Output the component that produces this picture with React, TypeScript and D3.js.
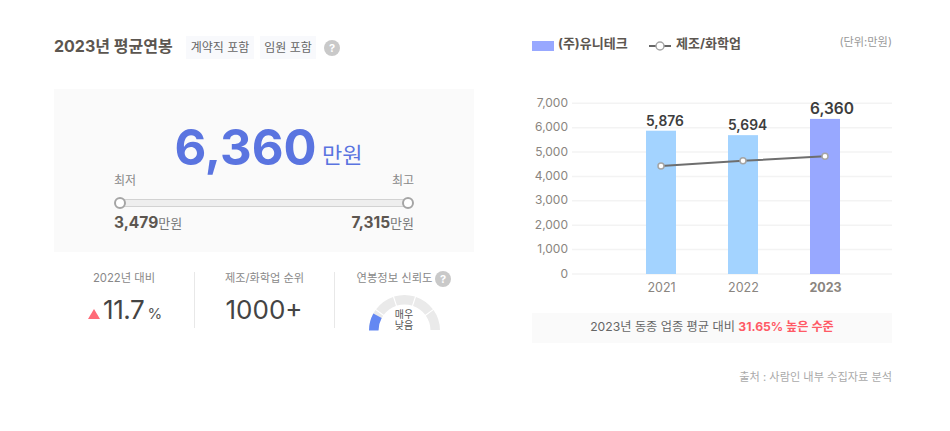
import React from "react";
import * as d3 from "d3";

const years = ["2021", "2022", "2023"];
const companyValues = [5876, 5694, 6360];
const industryValues = [4430, 4640, 4831];
const yTicks = [0, 1000, 2000, 3000, 4000, 5000, 6000, 7000];
const gaugeSegments = [1, 1, 1, 1, 1];
const FONT = "Inter, 'Noto Sans CJK KR', sans-serif";
const fmt = d3.format(",");

export default function App() {
  const y = d3.scaleLinear().domain([0, 7000]).range([274, 103.3]);
  const x = d3.scalePoint<string>().domain(years).range([661, 825]);
  const line = d3.line<number>().x((_, i) => x(years[i])!).y((d) => y(d));
  const barW = 30;

  const pie = d3.pie<number>().sort(null).startAngle(-Math.PI / 2).endAngle(Math.PI / 2).padAngle(0.025)(gaugeSegments);
  const arc = d3.arc<d3.PieArcDatum<number>>().innerRadius(26).outerRadius(35.5);
  const blueArc = d3.arc()({ innerRadius: 26, outerRadius: 35.5, startAngle: -Math.PI / 2, endAngle: -Math.PI / 2 + 0.5 } as any);

  const T = (p: any) => <text fontFamily={FONT} {...p} />;
  return (
    <svg width={950} height={431} style={{ position: "absolute", left: 0, top: 0, background: "#fff" }}>
      {/* header */}
      <T x={54} y={52} fontSize={16} fontWeight={700} fill="#5c5650">2023년 평균연봉</T>
      <rect x={186} y={36} width={68} height={23} fill="#f8f9fc" />
      <T x={220} y={52} fontSize={12} fill="#666" textAnchor="middle">계약직 포함</T>
      <rect x={260} y={36} width={56} height={23} fill="#f8f9fc" />
      <T x={288} y={52} fontSize={12} fill="#666" textAnchor="middle">임원 포함</T>
      <circle cx={332} cy={48} r={8} fill="#c9c9c9" />
      <T x={332} y={52} fontSize={11} fontWeight={700} fill="#fff" textAnchor="middle">?</T>

      {/* main panel */}
      <rect x={54} y={89} width={420} height={163} fill="#fafafa" />
      <T x={245.5} y={164.5} fontSize={49} fontWeight={700} fill="#5a74e0" textAnchor="middle">6,360</T>
      <T x={322} y={163} fontSize={22} fill="#5a74e0">만원</T>
      <T x={114} y={185} fontSize={12} fill="#888">최저</T>
      <T x={414} y={185} fontSize={12} fill="#888" textAnchor="end">최고</T>
      <rect x={118} y={199.5} width={292} height={7} fill="#eeeeee" stroke="#d2d2d2" strokeWidth={1} />
      <circle cx={120} cy={203} r={5} fill="#fff" stroke="#a5a5a5" strokeWidth={2} />
      <circle cx={408} cy={203} r={5} fill="#fff" stroke="#a5a5a5" strokeWidth={2} />
      <T x={114} y={228} fontSize={15.5} fill="#5c5650"><tspan fontWeight={700}>3,479</tspan><tspan fontSize={13} fill="#777">만원</tspan></T>
      <T x={414} y={228} fontSize={15.5} fill="#5c5650" textAnchor="end"><tspan fontWeight={700}>7,315</tspan><tspan fontSize={13} fill="#777">만원</tspan></T>

      {/* stats */}
      <T x={124} y={282} fontSize={11.3} fill="#888" textAnchor="middle">2022년 대비</T>
      <path d="M88,319 L94,309 L100,319 Z" fill="#ff6b78" />
      <T x={103} y={319} fontSize={26} letterSpacing={-0.4} fill="#444">11.7</T>
      <T x={147.5} y={319} fontSize={15} fill="#555">%</T>
      <line x1={194.5} x2={194.5} y1={272} y2={328} stroke="#e8e8e8" />
      <T x={264.5} y={282} fontSize={11.2} fill="#888" textAnchor="middle">제조/화학업 순위</T>
      <T x={264} y={319} fontSize={26} fill="#444" textAnchor="middle">1000+</T>
      <line x1={334.5} x2={334.5} y1={272} y2={328} stroke="#e8e8e8" />
      <T x={394.5} y={282} fontSize={11.3} fill="#888" textAnchor="middle">연봉정보 신뢰도</T>
      <circle cx={443} cy={279} r={8} fill="#c9c9c9" />
      <T x={443} y={283} fontSize={11} fontWeight={700} fill="#fff" textAnchor="middle">?</T>

      {/* gauge */}
      <g transform="translate(404.5,330.5)">
        {pie.map((s, i) => <path key={i} d={arc(s)!} fill="#eaeaea" />)}
        <path d={blueArc!} fill="#6488f2" />
      </g>
      <T x={404} y={318} fontSize={10} fill="#555" textAnchor="middle">매우</T>
      <T x={404} y={329} fontSize={10} fill="#555" textAnchor="middle">낮음</T>

      {/* legend */}
      <rect x={532} y={41} width={22} height={10} fill="#98a8ff" />
      <T x={558} y={48} fontSize={13} fontWeight={700} fill="#5c5650">(주)유니테크</T>
      <line x1={649} x2={671} y1={46} y2={46} stroke="#666" strokeWidth={2} />
      <circle cx={660} cy={46} r={4} fill="#fff" stroke="#a5a5a5" strokeWidth={1.5} />
      <T x={676} y={48} fontSize={13} fontWeight={700} fill="#5c5650">제조/화학업</T>
      <T x={892} y={46} fontSize={11.2} fill="#999" textAnchor="end">(단위:만원)</T>

      {/* chart */}
      {yTicks.map((t) => (
        <g key={t}>
          <line x1={572} x2={892} y1={y(t)} y2={y(t)} stroke="#f3f3f3" strokeWidth={1.5} />
          <T x={568} y={y(t) + 3.5} fontSize={12} fill="#8a8580" textAnchor="end">{fmt(t)}</T>
        </g>
      ))}
      {years.map((yr, i) => (
        <g key={yr}>
          <rect x={x(yr)! - barW / 2} y={y(companyValues[i])} width={barW} height={y(0) - y(companyValues[i])} fill={i === 2 ? "#98a8ff" : "#a3d3ff"} />
          <T x={x(yr)! - barW / 2} y={y(companyValues[i]) - 5} fontSize={i === 2 ? 15.5 : 13.8} fontWeight={600} fill="#3d3d3d">{fmt(companyValues[i])}</T>
          <T x={x(yr)! + 0.5} y={292} fontSize={12.5} fontWeight={i === 2 ? 700 : 400} fill="#8a8580" textAnchor="middle">{yr}</T>
        </g>
      ))}
      <path d={line(industryValues)!} fill="none" stroke="#6e6e6e" strokeWidth={2} />
      {years.map((yr, i) => (
        <circle key={yr} cx={x(yr)!} cy={y(industryValues[i])} r={3} fill="#fff" stroke="#a5a5a5" strokeWidth={1.5} />
      ))}

      {/* footer */}
      <rect x={532} y={313} width={360} height={30} fill="#fafafa" />
      <T x={712} y={331} fontSize={12.2} fill="#666" textAnchor="middle">2023년 동종 업종 평균 대비 <tspan fontWeight={700} fill="#ff5a66">31.65% 높은 수준</tspan></T>
      <T x={892} y={381} fontSize={11.2} fill="#aaa" textAnchor="end">출처 : 사람인 내부 수집자료 분석</T>
    </svg>
  );
}
